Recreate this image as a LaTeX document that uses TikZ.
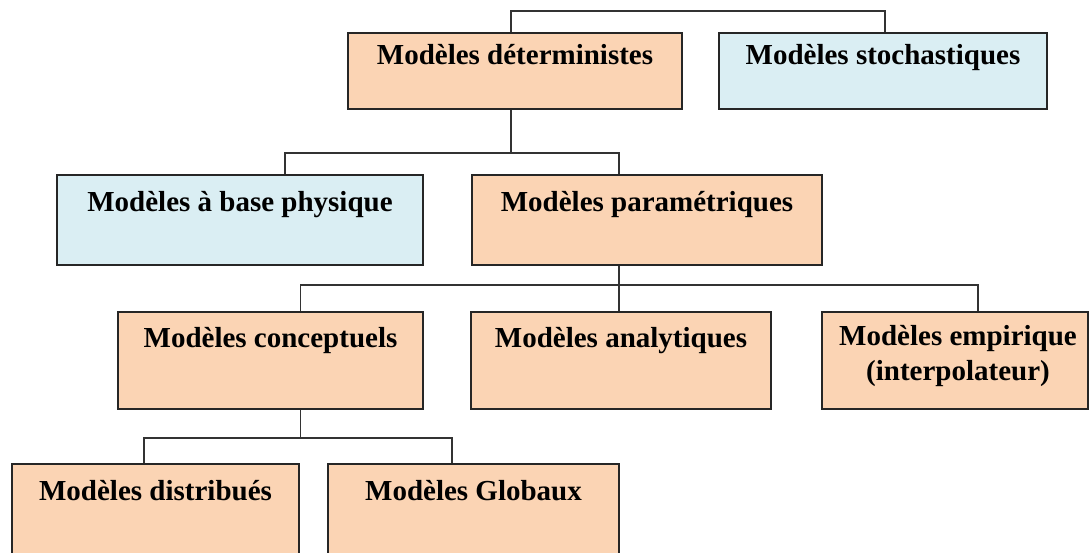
\documentclass[tikz,border=0pt]{standalone}
\usepackage{fontspec}
\setmainfont{Liberation Serif}
\definecolor{peach}{HTML}{FBD4B4}
\definecolor{aqua}{HTML}{DAEEF3}
\tikzset{
  box/.style={draw=black!85, line width=2pt, fill=peach, inner sep=0pt},
  lien/.style={draw=black!80, line width=1.8pt},
  titre/.style={font=\fontsize{29}{35}\selectfont\bfseries, anchor=base, align=center, inner sep=0pt}
}

\begin{document}
\begin{tikzpicture}[x=1pt,y=-1pt]
  \useasboundingbox (0,0) rectangle (1090,553);
  \clip (0,0) rectangle (1090,553);

  \node[box, minimum width=334pt, minimum height=76pt] (det) at (515,71) {};
  \node[box, fill=aqua, minimum width=328pt, minimum height=76pt] (sto) at (883,71) {};
  \node[titre] (det-t) at ([yshift=-33pt]det.north) {Modèles déterministes};
  \node[titre] (sto-t) at ([yshift=-33pt]sto.north) {Modèles stochastiques};

  \node[box, fill=aqua, minimum width=366pt, minimum height=90pt] (phy) at (240,220) {};
  \node[box, minimum width=350pt, minimum height=90pt] (par) at (647,220) {};
  \node[titre] (phy-t) at ([yshift=-38pt]phy.north) {Modèles à base physique};
  \node[titre] (par-t) at ([yshift=-38pt]par.north) {Modèles paramétriques};

  \node[box, minimum width=305pt, minimum height=97pt] (con) at (270.5,360.5) {};
  \node[box, minimum width=300pt, minimum height=97pt] (ana) at (621,360.5) {};
  \node[box, minimum width=266pt, minimum height=97pt] (emp) at (955,360.5) {};
  \node[titre] (con-t) at ([yshift=-37pt]con.north) {Modèles conceptuels};
  \node[titre] (ana-t) at ([yshift=-37pt]ana.north) {Modèles analytiques};
  \node[titre] (emp-t) at ([xshift=3pt,yshift=-70pt]emp.north) {Modèles empirique\\(interpolateur)};

  \node[box, minimum width=287pt, minimum height=97pt] (dis) at (155.5,512.5) {};
  \node[box, minimum width=291pt, minimum height=97pt] (glo) at (473.5,512.5) {};
  \node[titre] (dis-t) at ([yshift=-37pt]dis.north) {Modèles distribués};
  \node[titre] (glo-t) at ([yshift=-37pt]glo.north) {Modèles Globaux};

  \draw[lien] ([xshift=-4pt]det.north) -- ++(0,-21) -| ([xshift=2pt]sto.north);
  \draw[lien] ([xshift=-4pt]det.south) -- ++(0,43) -| ([xshift=45pt]phy.north);
  \draw[lien] ([xshift=-4pt]det.south) -- ++(0,43) -| ([xshift=-28pt]par.north);
  \draw[lien] ([xshift=-28pt]par.south) -- ++(0,19) -| ([xshift=30pt]con.north);
  \draw[lien] ([xshift=-28pt]par.south) -- ([xshift=-2pt]ana.north);
  \draw[lien] ([xshift=-28pt]par.south) -- ++(0,19) -| ([xshift=23pt]emp.north);
  \draw[lien] ([xshift=30pt]con.south) -- ++(0,28) -| ([xshift=-11.5pt]dis.north);
  \draw[lien] ([xshift=30pt]con.south) -- ++(0,28) -| ([xshift=-21.5pt]glo.north);
\end{tikzpicture}
\end{document}
